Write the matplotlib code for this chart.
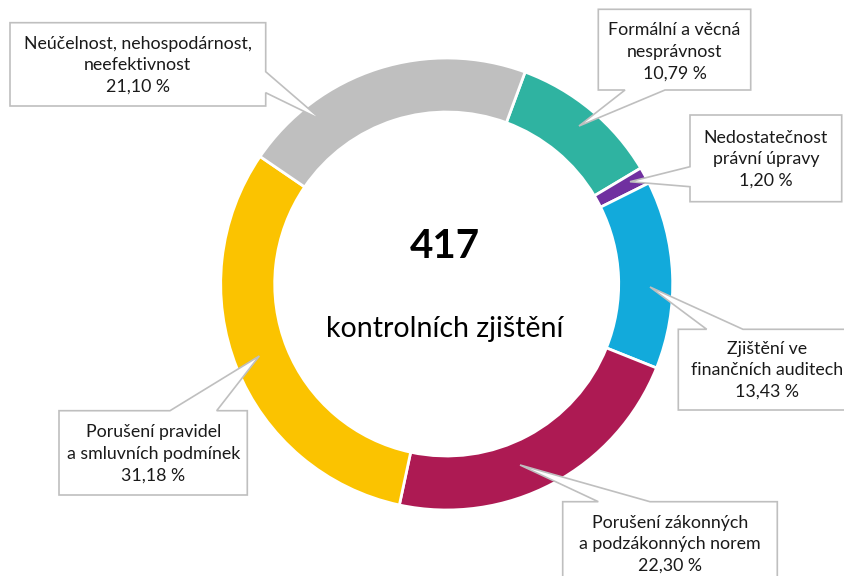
import numpy as np
import matplotlib
matplotlib.use("Agg")
import matplotlib.pyplot as plt
from matplotlib.patches import Polygon

plt.rcParams['font.family'] = ['Lato', 'DejaVu Sans']

# data
categories = ["Formální a věcná\nnesprávnost",
              "Nedostatečnost\nprávní úpravy",
              "Zjištění ve\nfinančních auditech",
              "Porušení zákonných\na podzákonných norem",
              "Porušení pravidel\na smluvních podmínek",
              "Neúčelnost, nehospodárnost,\nneefektivnost"]
shares = [10.79, 1.20, 13.43, 22.30, 31.18, 21.10]
colors = ["#2FB3A1", "#7030A0", "#12AADB", "#AD1A53", "#FBC300", "#BFBFBF"]
total = 417
center_label = "kontrolních zjištění"

W, H = 845, 576
fig = plt.figure(figsize=(W / 100, H / 100), dpi=100)
ax = fig.add_axes([0, 0, 1, 1])

def Y(y):
    # pixel row -> axis y
    return H - y

cx, cy, R = 446.7, 284, 226
ax.pie(shares, colors=colors, startangle=69.7, counterclock=False,
       center=(cx, Y(cy)), radius=R, frame=True,
       wedgeprops=dict(width=54, edgecolor='white', linewidth=2))
ax.set_xlim(0, W)
ax.set_ylim(0, H)
ax.set_aspect('equal')
ax.axis('off')

ax.text(cx - 2, Y(247), str(total), ha='center', va='center',
        fontsize=29, fontweight='bold', color='black')
ax.text(cx - 2, Y(329), center_label, ha='center', va='center',
        fontsize=20.5, color='black')

# callout boxes: (x0, y0, x1, y1), side with pointer, base range, tip
boxes = [
    ((598.3, 9.3, 750.7, 90), 'bottom', (625, 665), (579, 126)),
    ((690, 115, 841.7, 201.7), 'left', (166.7, 186.7), (630, 181.7)),
    ((678.3, 329.3, 856, 410), 'top', (706.7, 743), (650, 287)),
    ((562.7, 501.7, 777.3, 590), 'top', (598.3, 650), (520, 465)),
    ((59, 410.7, 247.3, 495), 'top', (170, 216.7), (259.3, 356)),
    ((10, 22.7, 265.7, 106), 'right', (71.7, 92.7), (321.7, 120)),
]
text_mid = [51.7, 159.3, 370, 544, 453.8, 65]

def callout(box, side, base, tip):
    x0, y0, x1, y1 = box
    a, b = base
    if side == 'top':
        pts = [(x0, y0), (a, y0), tip, (b, y0), (x1, y0), (x1, y1), (x0, y1)]
    elif side == 'bottom':
        pts = [(x0, y0), (x1, y0), (x1, y1), (b, y1), tip, (a, y1), (x0, y1)]
    elif side == 'left':
        pts = [(x0, y0), (x1, y0), (x1, y1), (x0, y1), (x0, b), tip, (x0, a)]
    else:
        pts = [(x0, y0), (x1, y0), (x1, a), tip, (x1, b), (x1, y1), (x0, y1)]
    pts = [(p[0], Y(p[1])) for p in pts]
    ax.add_patch(Polygon(pts, closed=True, facecolor='white',
                         edgecolor='#BFBFBF', linewidth=1.2, zorder=5))

for cat, val, (box, side, base, tip), ym in zip(categories, shares, boxes, text_mid):
    callout(box, side, base, tip)
    xm = (box[0] + box[2]) / 2
    lbl = cat + "\n" + f"{val:.2f}".replace(".", ",") + " %"
    ax.text(xm, Y(ym), lbl, ha='center', va='center', fontsize=12.8,
            color='#1A1A1A', linespacing=1.42, zorder=6)

fig.savefig("out.png", dpi=100)
